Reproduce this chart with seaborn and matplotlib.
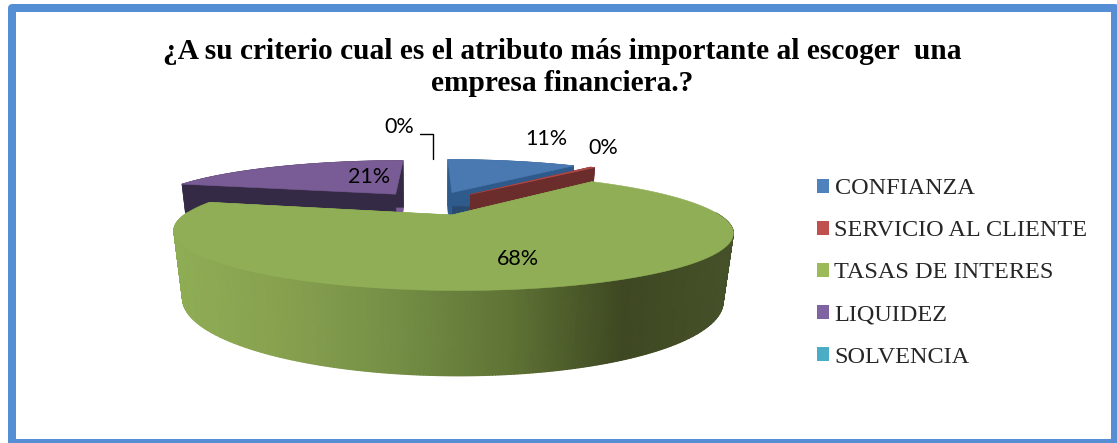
import numpy as np
import matplotlib
matplotlib.use("Agg")
import matplotlib.pyplot as plt
from matplotlib.colors import LinearSegmentedColormap
from matplotlib.patches import Patch, Polygon, Rectangle
import seaborn as sns

categories = ["CONFIANZA", "SERVICIO AL CLIENTE", "TASAS DE INTERES", "LIQUIDEZ", "SOLVENCIA"]
# servicio is a sliver in the picture but still reads 0%
values = [11, 0.4, 68, 21, 0]
title = "¿A su criterio cual es el atributo más importante al escoger  una\nempresa financiera.?"

legend_colors = ["#4f81bd", "#c0504d", "#9bbb59", "#8064a2", "#4bacc6"]
top_colors = ["#4a79b1", "#b04a47", "#8fae55", "#795c95", "#4bacc6"]
# faces of the cuts: first is at the theta2 end, second at the theta1 end
cut_colors = [("#2f5b8c", "#284a70"), ("#6b2c2c", "#6b2c2c"), ("#8fae55", "#8fae55"),
              ("#352a45", "#7a5c94"), ("#4bacc6", "#4bacc6")]
rim_colors = ["#2f5b8c", "#6b2c2c", None, "#352a45", "#4bacc6"]
green_wall = LinearSegmentedColormap.from_list(
    "wall", ["#8fae55", "#87a04f", "#748e45", "#5f7335", "#3e4822", "#46522a"])

# perspective of the pie plane, in pixels
cx, cy = 432, 203
R, kR, h = 250.5, 47, 62
p, q = 0.27, 0.03
explode = 0.25

sns.set_theme(style="white")
plt.rcParams["font.family"] = ["Liberation Serif", "DejaVu Sans"]


def project(u, v, t=0.0):
    w = 1 + p * v + q * t
    return cx + R * u / w, cy - kR * v / w + h * t / w


def corners(center, a):
    u = center[0] + np.cos(np.radians(a))
    v = center[1] + np.sin(np.radians(a))
    return u, v


def quad(ax, center, a, color, z):
    u, v = corners(center, a)
    pts = [project(center[0], center[1]), project(u, v), project(u, v, 1), project(center[0], center[1], 1)]
    ax.add_patch(Polygon(pts, closed=True, fc=color, ec=color, lw=0.4, zorder=z))


fig = plt.figure(figsize=(11.17, 4.43), dpi=100)
ax = fig.add_axes([0, 0, 1, 1])

wedges, _ = ax.pie(values, startangle=90, counterclock=False, radius=1,
                   explode=[explode] * len(values), colors=legend_colors)
geom = [(w.center, w.theta1, w.theta2) for w in wedges]
for w in wedges:
    w.remove()

# back slices first, green last because it sits in front
z = 2
for i in [3, 0, 1, 2]:
    center, t1, t2 = geom[i]
    quad(ax, center, t1, cut_colors[i][1], z)
    quad(ax, center, t2, cut_colors[i][0], z)
    angles = np.linspace(t1, t2, max(int(t2 - t1), 2) * 2)
    u, v = corners(center, angles)
    if rim_colors[i] is None:
        # front of the big slice has a left to right shading
        front = np.sin(np.radians(angles)) <= 0.05
        top_x, top_y = project(u[front], v[front])
        low_x, low_y = project(u[front], v[front], 1)
        X = np.vstack([top_x, low_x])
        Y = np.vstack([top_y, low_y])
        ax.pcolormesh(X, Y, X, shading="gouraud", cmap=green_wall, vmin=175, vmax=735, zorder=z)
    else:
        top_pts = list(zip(*project(u, v)))
        low_pts = list(zip(*project(u, v, 1)))
        ax.add_patch(Polygon(top_pts + low_pts[::-1], closed=True, fc=rim_colors[i], ec=rim_colors[i],
                             lw=0.4, zorder=z))
    top = [project(center[0], center[1])] + list(zip(*project(u, v)))
    ax.add_patch(Polygon(top, closed=True, fc=top_colors[i], ec=top_colors[i], lw=0.4, zorder=z + 1))
    z += 2

ax.set_aspect("auto")
ax.set_xlim(0, 1117)
ax.set_ylim(443, 0)
ax.set_axis_off()

# percent labels
total = sum(values)
percents = ["%d%%" % round(v / total * 100) for v in values]
label_xy = [(546, 139), (603, 148), (518, 259), (369, 177), (399, 127)]
for text, (x, y) in zip(percents, label_xy):
    ax.text(x, y, text, family="Lato", fontsize=15.5, color="black", ha="center", va="center", zorder=20)
ax.plot([420, 433, 433], [134, 134, 159], color="black", lw=1.0, zorder=20)

ax.text(562, 67.5, title, fontsize=21.2, fontweight="bold", color="black", ha="center", va="center",
        linespacing=1.26, zorder=20)

handles = [Patch(fc=c, ec="none") for c in legend_colors]
ax.legend(handles, categories, loc="center left", bbox_to_anchor=(817, 273),
          bbox_transform=ax.transData, frameon=False, fontsize=17.5, handlelength=0.5,
          handleheight=0.5, handletextpad=0.22, labelspacing=0.87, borderpad=0, borderaxespad=0)

ax.add_patch(Rectangle((11.5, 7.5), 1103.5, 435.5, fill=False, ec="#558ed5", lw=5.76,
                       joinstyle="round", zorder=30, clip_on=True))

fig.savefig("out.png", dpi=100, facecolor="white")
